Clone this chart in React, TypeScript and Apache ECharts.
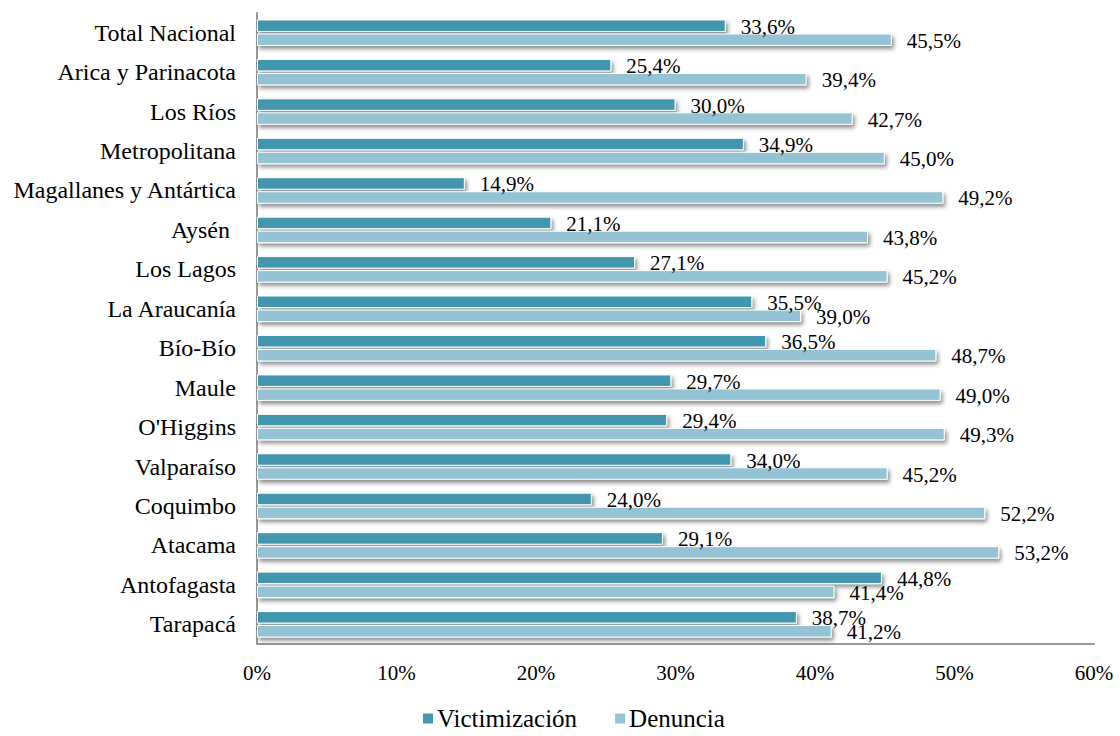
import React, { useEffect, useRef } from "react";
import * as echarts from "echarts";

const categories = [
  "Total Nacional",
  "Arica y Parinacota",
  "Los Ríos",
  "Metropolitana",
  "Magallanes y Antártica",
  "Aysén ",
  "Los Lagos",
  "La Araucanía",
  "Bío-Bío",
  "Maule",
  "O'Higgins",
  "Valparaíso",
  "Coquimbo",
  "Atacama",
  "Antofagasta",
  "Tarapacá",
];
const victimizacion = [33.6, 25.4, 30.0, 34.9, 14.9, 21.1, 27.1, 35.5, 36.5, 29.7, 29.4, 34.0, 24.0, 29.1, 44.8, 38.7];
const denuncia = [45.5, 39.4, 42.7, 45.0, 49.2, 43.8, 45.2, 39.0, 48.7, 49.0, 49.3, 45.2, 52.2, 53.2, 41.4, 41.2];
const seriesNames = ["Victimización", "Denuncia"];
const colors = ["#4297AE", "#93C3D4"];

const FONT = "Liberation Serif";

const fmt = (v: number) => v.toFixed(1).replace(".", ",") + "%";

export default function App() {
  const ref = useRef<HTMLDivElement>(null);
  useEffect(() => {
    if (!ref.current) return;
    const chart = echarts.init(ref.current, undefined, { renderer: "svg" });
    const mkSeries = (name: string, data: number[], color: string) => ({
      name,
      type: "bar",
      data,
      barWidth: 12.5,
      barGap: "12%",
      itemStyle: {
        color,
        borderColor: "#ffffff",
        borderWidth: 1,
        shadowColor: "rgba(0,0,0,0.45)",
        shadowBlur: 4,
        shadowOffsetX: 2,
        shadowOffsetY: 3,
      },
      label: {
        show: true,
        position: "right",
        distance: 15,
        offset: [0, 1],
        formatter: (p: any) => fmt(p.value),
        fontFamily: FONT,
        fontSize: 21,
        color: "#000",
      },
    });
    chart.setOption({
      animation: false,
      backgroundColor: "#ffffff",
      grid: { left: 257, right: 26, top: 13, bottom: 92, containLabel: false },
      xAxis: {
        type: "value",
        min: 0,
        max: 60,
        interval: 10,
        axisLine: { show: true, lineStyle: { color: "#999", width: 2 } },
        axisTick: { show: false },
        splitLine: { show: false },
        axisLabel: {
          formatter: (v: number) => v + "%",
          fontFamily: FONT,
          fontSize: 21,
          color: "#000",
          margin: 18,
        },
      },
      yAxis: {
        type: "category",
        inverse: true,
        data: categories,
        axisLine: { show: true, lineStyle: { color: "#999", width: 2 } },
        axisTick: { show: false },
        axisLabel: {
          fontFamily: FONT,
          fontSize: 24,
          color: "#000",
          margin: 21,
        },
      },
      legend: {
        data: seriesNames,
        left: 416,
        top: 701,
        itemWidth: 12,
        itemHeight: 12,
        itemGap: 36,
        icon: "rect",
        textStyle: { fontFamily: FONT, fontSize: 25, color: "#000", padding: [0, 0, 0, -2] },
      },
      series: [
        mkSeries(seriesNames[0], victimizacion, colors[0]),
        mkSeries(seriesNames[1], denuncia, colors[1]),
      ],
    });
    return () => chart.dispose();
  }, []);
  return (
    <div
      ref={ref}
      style={{ position: "fixed", left: 0, top: 0, width: 1120, height: 736 }}
    />
  );
}
